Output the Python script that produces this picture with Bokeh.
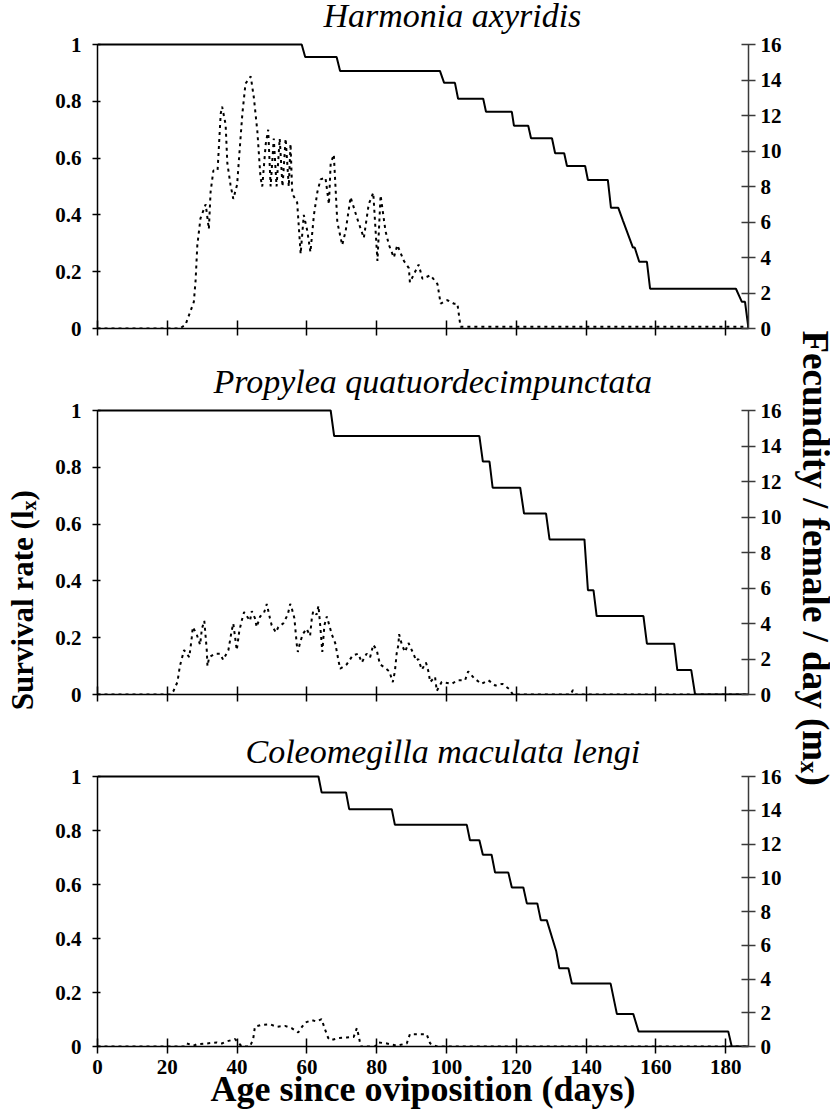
import numpy as np
from bokeh.plotting import figure
from bokeh.layouts import row, column
from bokeh.models import Range1d, LinearAxis, FixedTicker
from bokeh.core.properties import value
from bokeh.embed import file_html
from bokeh.resources import INLINE

# ---------------- data ----------------
TITLES = ["Harmonia axyridis", "Propylea quatuordecimpunctata", "Coleomegilla maculata lengi"]

# Harmonia axyridis
S1_day = [0, 58.5, 59.5, 68.5, 69.5, 98.1, 99.3, 102.4, 103.3, 110.5, 111.3, 118.7, 119.3, 123.4, 124.2,
          130.2, 131.1, 133.7, 134.5, 139.7, 140.5, 146.2, 147.1, 149.2, 150.5, 153.4, 153.9, 155.2, 157.4,
          158.3, 182.9, 184.6, 185.5, 186.5]
S1_lx = [1, 1, 0.956, 0.956, 0.907, 0.907, 0.865, 0.865, 0.809, 0.809, 0.763, 0.763, 0.714, 0.714, 0.670,
         0.670, 0.617, 0.617, 0.572, 0.572, 0.523, 0.523, 0.425, 0.425, 0.381, 0.285, 0.285, 0.235, 0.235,
         0.140, 0.140, 0.094, 0.094, 0]
F1_day = [0, 23.5, 25.2, 27.6, 28.1, 28.6, 29.5, 31.0, 31.9, 32.4, 33.2, 34.4, 35.3, 35.7, 36.7, 37.2,
          38.1, 38.9, 40.0, 40.7, 41.5, 42.4, 43.9, 44.8, 45.8, 46.7, 47.2, 48.2, 48.9, 49.6, 50.5, 51.3,
          52.2, 53.0, 53.9, 54.8, 55.3, 55.8, 57.2, 58.2, 59.1, 60.1, 61.0, 62.0, 63.0, 63.9, 65.3, 66.3,
          66.8, 67.7, 68.7, 70.1, 71.1, 72.5, 74.4, 76.3, 77.7, 79.0, 80.2, 81.1, 82.5, 83.5, 84.9, 85.9,
          87.8, 89.2, 89.5, 92.0, 93.1, 95.4, 97.4, 98.3, 100.2, 102.1, 103.1, 104.0, 186.5]
F1_mx = [0, 0, 0.2, 1.5, 2.7, 4.7, 6.2, 7.0, 5.6, 7.7, 8.9, 8.9, 12.1, 12.5, 11.5, 9.3,
         8.1, 7.3, 8.1, 10.0, 12.1, 13.8, 14.2, 13.0, 11.1, 8.5, 8.0, 10.4, 11.2, 8.0, 10.7, 8.0,
         10.7, 8.0, 10.7, 8.0, 10.4, 7.6, 7.1, 4.2, 6.4, 5.5, 4.3, 6.4, 7.7, 8.4, 8.5, 7.0,
         9.3, 9.8, 6.0, 4.7, 5.5, 7.4, 6.2, 5.1, 7.0, 7.65, 3.8, 7.5, 5.5, 4.7, 4.0, 4.7,
         3.8, 3.4, 2.6, 3.6, 2.8, 3.0, 2.5, 1.4, 1.6, 1.4, 1.4, 0.1, 0.1]

# Propylea quatuordecimpunctata
S2_day = [0, 66.8, 67.8, 109.4, 110.4, 112.3, 113.2, 121.1, 122.2, 128.5, 129.5, 139.5, 140.5, 142.1,
          143.0, 156.4, 157.4, 165.2, 166.1, 170.1, 171.2, 186.5]
S2_lx = [1, 1, 0.910, 0.910, 0.820, 0.820, 0.728, 0.728, 0.637, 0.637, 0.546, 0.546, 0.367, 0.367,
         0.276, 0.276, 0.179, 0.179, 0.086, 0.086, 0, 0]
F2_day = [0, 21.0, 21.7, 22.9, 23.6, 24.8, 26.3, 27.0, 27.3, 28.4,
          29.4, 29.9, 30.6, 31.3, 31.5, 32.0, 33.7, 35.1, 36.0, 37.5,
          38.4, 38.9, 39.9, 40.6, 41.3, 42.0, 43.7, 44.2, 45.1, 45.6,
          46.6, 47.7, 48.5, 49.4, 49.9, 51.1, 51.8, 53.2, 54.5, 55.2,
          55.6, 56.4, 57.1, 57.4, 58.0, 58.8, 59.9, 60.9, 61.4, 61.8,
          62.8, 63.3, 63.8, 64.4, 65.0, 65.7, 66.4, 67.1, 68.1, 69.0,
          69.5, 71.4, 73.1, 74.7, 75.7, 77.1, 78.1, 79.0, 80.0, 80.9,
          82.4, 83.6, 84.6, 85.2, 85.7, 86.2, 86.4, 87.2, 88.1, 89.1,
          90.5, 91.3, 91.9, 92.9, 94.1, 94.8, 95.3, 96.7, 97.2, 98.6,
          101.5, 103.1, 105.3, 106.2, 108.0, 110.0, 112.0, 114.0, 116.0, 118.0,
          119.0, 135.5, 136.2, 137.0, 186.5]
F2_mx = [0, 0, 0.17, 0.7, 1.6, 2.5, 2.1, 3.2, 3.8, 3.4,
         2.8, 3.7, 4.15, 2.5, 1.6, 2.1, 2.3, 2.3, 1.95, 2.5,
         3.55, 4.0, 2.5, 3.55, 4.15, 4.64, 4.15, 4.7, 4.3, 3.8,
         4.4, 4.6, 5.1, 4.3, 3.9, 3.5, 3.8, 4.0, 4.5, 5.1,
         4.9, 4.3, 2.8, 2.4, 2.9, 3.4, 3.7, 3.3, 4.3, 4.7,
         4.5, 5.0, 3.9, 2.4, 3.9, 4.4, 3.9, 3.4, 2.9, 1.95,
         1.45, 1.7, 2.2, 2.3, 1.8, 2.3, 2.1, 2.8, 2.5, 1.7,
         1.5, 1.3, 0.7, 1.3, 2.3, 2.8, 3.4, 2.8, 2.4, 2.9,
         2.3, 1.9, 2.0, 1.4, 1.8, 1.3, 0.7, 1.0, 0.2, 0.7,
         0.6, 0.8, 0.8, 1.3, 0.9, 0.6, 0.8, 0.5, 0.6, 0.3,
         0, 0, 0.25, 0, 0]

# Coleomegilla maculata lengi
S3_day = [0, 63.3, 64.2, 71.2, 72.1, 84.3, 85.2, 105.8, 106.7, 109.4, 110.4, 112.9, 113.9, 117.7, 118.7,
          122.0, 123.0, 126.0, 127.0, 128.7, 131.4, 132.3, 134.9, 135.9, 147.0, 148.8, 153.5, 155.0,
          180.7, 181.7, 186.5]
S3_lx = [1, 1, 0.941, 0.941, 0.879, 0.879, 0.821, 0.821, 0.764, 0.764, 0.710, 0.710, 0.644, 0.644, 0.589,
         0.589, 0.530, 0.530, 0.468, 0.468, 0.354, 0.290, 0.290, 0.233, 0.233, 0.120, 0.120, 0.056,
         0.056, 0, 0]
F3_day = [0, 25.0, 25.6, 27.5, 28.6, 31.3, 34.2, 35.6, 37.0, 39.4, 40.3, 41.3, 43.7, 44.6, 45.1,
          47.0, 49.4, 51.3, 53.7, 55.6, 57.5, 58.0, 59.5, 61.4, 62.8, 64.2, 65.2, 66.1, 66.8, 69.0,
          71.4, 73.4, 74.3, 74.9, 75.4, 79.5, 80.5, 82.9, 85.7, 88.6, 89.5, 91.9, 94.3, 95.3, 97.2, 186.5]
F3_mx = [0, 0, 0.18, 0.05, 0.14, 0.18, 0.24, 0.18, 0.3, 0.44, 0.24, 0, 0, 0.44, 1.17,
         1.28, 1.32, 1.17, 1.22, 1.09, 0.83, 1.0, 1.42, 1.56, 1.48, 1.62, 1.0, 0.5, 0.37, 0.5,
         0.53, 0.57, 1.09, 0.57, 0, 0, 0.24, 0.18, 0.05, 0.18, 0.73, 0.73, 0.73, 0.18, 0, 0]

X_MAX = 186.5
X_TICKS = [0, 20, 40, 60, 80, 100, 120, 140, 160, 180]
LX_TICKS = [0, 0.2, 0.4, 0.6, 0.8, 1]
LX_LABELS = ["0", "0.2", "0.4", "0.6", "0.8", "1"]
MX_TICKS = [0, 2, 4, 6, 8, 10, 12, 14, 16]
Y_LABEL = "Survival rate (l"
Y_LABEL_SUB = "x"
Y2_LABEL = "Fecundity / female / day (m"
Y2_LABEL_SUB = "x"
X_LABEL = "Age since oviposition (days)"

# ---------------- layout (page pixels; Bokeh's page has no margin) ----------------
SERIF = "Liberation Serif"
PAGE_H = 1119
LEFT_W, PANEL_W, RIGHT_W = 50, 738, 42
PX0 = LEFT_W                     # page x where panels start
RX0 = PX0 + PANEL_W              # page x where the right label strip starts
FRAME_L, FRAME_R = 97, 748       # page x of frame edges
# (figure top, figure bottom, y of value 1, y of value 0) in page px
PANELS = [(0, 345, 44, 328), (345, 712, 410, 694), (712, 1119, 776, 1046)]
TITLE_POS = [(323, 15), (213, 381), (245, 751)]   # left x, baseline anchor y (page px)
TICK_FONT = "21px"


def px_to_day(px):
    return (px - FRAME_L) * X_MAX / (FRAME_R - FRAME_L)


def make_panel(i, s_day, s_lx, f_day, f_mx, bottom):
    top, bot, y1, y0 = PANELS[i]
    unit = y0 - y1
    y_end = (y0 - top) / unit
    p = figure(width=PANEL_W, height=bot - top,
               x_range=Range1d(0, X_MAX), y_range=Range1d(0, y_end),
               min_border_left=FRAME_L - PX0, min_border_right=PX0 + PANEL_W - FRAME_R,
               min_border_top=0, min_border_bottom=bot - y0,
               toolbar_location=None, output_backend="svg")
    p.outline_line_color = None
    p.grid.visible = False
    p.background_fill_color = "white"
    p.border_fill_color = "white"
    p.extra_y_ranges = {"mx": Range1d(0, 16 * y_end)}

    # left axis
    ly = p.yaxis[0]
    ly.bounds = (0, 1)
    ly.ticker = FixedTicker(ticks=LX_TICKS)
    ly.major_label_overrides = {t: s for t, s in zip(LX_TICKS, LX_LABELS)}
    ly.major_tick_in = 3
    ly.major_tick_out = 5
    ly.major_label_standoff = 11

    # right axis
    ry = LinearAxis(y_range_name="mx", ticker=FixedTicker(ticks=MX_TICKS), bounds=(0, 16))
    ry.major_tick_in = 7
    ry.major_tick_out = 7
    ry.major_label_standoff = 5
    p.add_layout(ry, "right")

    # bottom axis
    xa = p.xaxis[0]
    xa.bounds = (0, X_MAX)
    xa.ticker = FixedTicker(ticks=X_TICKS)
    xa.major_tick_in = 8
    xa.major_tick_out = 7

    for ax in (ly, ry, xa):
        ax.minor_tick_line_color = None
        ax.axis_line_width = 1.5
        ax.major_tick_line_width = 1.5
        ax.axis_line_color = "black"
        ax.major_tick_line_color = "black"
        ax.major_label_text_font = SERIF
        ax.major_label_text_font_style = "bold"
        ax.major_label_text_font_size = TICK_FONT
        ax.major_label_text_color = "black"
    ry.axis_line_color = "#3a3a3a"
    ry.major_tick_line_color = "#3a3a3a"

    if bottom:
        xa.major_label_standoff = 6
        xa.axis_label = X_LABEL
        xa.axis_label_text_font = SERIF
        xa.axis_label_text_font_style = "bold"
        xa.axis_label_text_font_size = "36px"
        xa.axis_label_text_color = "black"
        xa.axis_label_standoff = -8
    else:
        # ticks only, no tick labels on the upper panels
        xa.major_label_text_font_size = "1px"
        xa.major_label_text_color = None
        xa.major_label_standoff = 0

    p.line(s_day, s_lx, line_color="black", line_width=2)
    p.line(f_day, f_mx, y_range_name="mx", line_color="black", line_width=2, line_dash="3 4")

    tx, ty = TITLE_POS[i]
    p.text(x=[px_to_day(tx)], y=[(y0 - ty) / unit], text=[TITLES[i]],
           text_font=value(SERIF), text_font_style="italic", text_font_size="34px",
           text_align="left", text_baseline="alphabetic", text_color="black")
    return p


def label_fig(w):
    f = figure(width=w, height=PAGE_H, x_range=Range1d(0, w), y_range=Range1d(0, PAGE_H),
               min_border=0, toolbar_location=None, output_backend="svg",
               x_axis_location=None, y_axis_location=None)
    f.outline_line_color = None
    f.grid.visible = False
    f.background_fill_color = "white"
    f.border_fill_color = "white"
    return f


def Y(py):
    return PAGE_H - py


p1 = make_panel(0, S1_day, S1_lx, F1_day, F1_mx, False)
p2 = make_panel(1, S2_day, S2_lx, F2_day, F2_mx, False)
p3 = make_panel(2, S3_day, S3_lx, F3_day, F3_mx, True)

# left label, reads bottom to top
L = label_fig(LEFT_W)
lk = dict(text_font=value(SERIF), text_font_style="bold", text_color="black",
          text_baseline="alphabetic", angle=np.pi / 2)
L.text(x=[22], y=[Y(510)], text=[Y_LABEL], text_align="right", text_font_size="31px", **lk)
L.text(x=[28], y=[Y(510)], text=[Y_LABEL_SUB], text_align="left", text_font_size="20px", **lk)
L.text(x=[22], y=[Y(500)], text=[")"], text_align="left", text_font_size="31px", **lk)

# right label, reads top to bottom
R = label_fig(RIGHT_W)
rk = dict(text_font=value(SERIF), text_font_style="bold", text_color="black",
          text_baseline="alphabetic", angle=-np.pi / 2, text_align="left")
R.text(x=[815 - RX0], y=[Y(330)], text=[Y2_LABEL], text_font_size="37px", **rk)
R.text(x=[809 - RX0], y=[Y(760.6)], text=[Y2_LABEL_SUB], text_font_size="25px", **rk)
R.text(x=[815 - RX0], y=[Y(773)], text=[")"], text_font_size="37px", **rk)

layout = row(L, column(p1, p2, p3), R)

open("out.html", "w").write(file_html(layout, INLINE))
